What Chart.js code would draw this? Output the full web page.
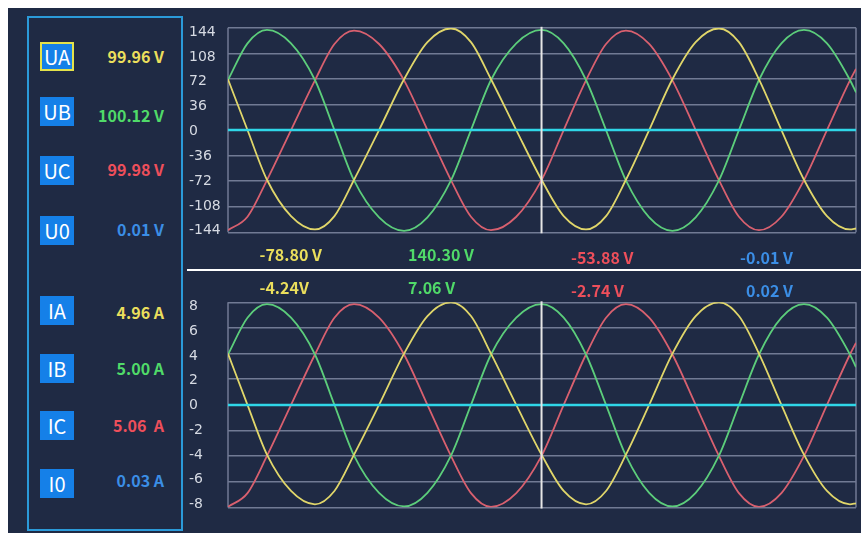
<!DOCTYPE html>
<html>
<head>
<meta charset="utf-8">
<script src="https://cdn.jsdelivr.net/npm/chart.js@4.4.1/dist/chart.umd.min.js"></script>
<style>
html,body{margin:0;padding:0;background:#ffffff;width:861px;height:533px;overflow:hidden}
#bg{position:absolute;left:8px;top:8px;width:853px;height:525px;background:#1f2a44}
#box{position:absolute;left:27px;top:16px;width:156px;height:515px;border:2px solid #2b9ad9;box-sizing:border-box}
.tag{position:absolute;left:40px;width:34px;height:29px;background:#1580e8;color:#fff;font-family:"Noto Sans CJK SC","Noto Sans",sans-serif;font-size:20px;line-height:29px;text-align:center;box-sizing:border-box}
.tag.sel{border:2px solid #e4e24a;line-height:25px}
.val{position:absolute;left:84px;width:80px;text-align:right;font-family:"Noto Sans CJK SC","Noto Sans",sans-serif;font-weight:bold;font-size:16px;line-height:20px;white-space:pre}
.rd{position:absolute;font-family:"Noto Sans CJK SC","Noto Sans",sans-serif;font-weight:bold;font-size:16px;line-height:20px;white-space:pre}
#sep{position:absolute;left:187px;top:269px;width:674px;height:2px;background:#ffffff}
canvas{position:absolute;left:189px}
</style>
</head>
<body>
<div id="bg"></div>
<div id="box"></div>
<div id="sep"></div>
<canvas id="cv" width="672" height="228" style="top:16px"></canvas>
<canvas id="ci" width="672" height="228" style="top:290px"></canvas>
<script>
// ---- data (times in ms) ----
const times = [0, 1.45, 2.90, 4.69, 6.47, 7.92, 9.38, 11.24, 13.10, 14.84, 16.59, 18.08, 19.57, 21.45, 23.33,
  24.98, 26.64, 28.13, 29.61, 31.34, 33.07, 34.80, 36.53, 38.02, 39.51, 41.18, 42.86, 44.57, 46.28, 46.73];

const uaWave = [71.5, 0, -70, -121.2, -140, -121.2, -70, 0, 71.5, 123.8, 143, 123.8, 71.5, 0, -70,
  -121.2, -140, -121.2, -70, 0, 71.5, 123.8, 143, 123.8, 71.5, 0, -70, -121.2, -140, -138.6];
const ubWave = [70.5, 122.1, 141, 122.1, 70.5, 0, -71, -123, -142, -123, -71, 0, 70.5, 122.1, 141,
  122.1, 70.5, 0, -71, -123, -142, -123, -71, 0, 70.5, 122.1, 141, 122.1, 70.5, 53];
const ucWave = [-141, -122.1, -70.5, 0, 70, 121.2, 140, 121.2, 70, 0, -70.5, -122.1, -141, -122.1, -70.5,
  0, 70, 121.2, 140, 121.2, 70, 0, -70.5, -122.1, -141, -122.1, -70.5, 0, 70, 86.2];
const u0Wave = [0, 0];

const iaWave = [4.0, 0, -3.88, -6.71, -7.75, -6.71, -3.88, 0, 4.0, 6.93, 8.0, 6.93, 4.0, 0, -3.88,
  -6.71, -7.75, -6.71, -3.88, 0, 4.0, 6.93, 8.0, 6.93, 4.0, 0, -3.88, -6.71, -7.75, -7.67];
const ibWave = [3.93, 6.80, 7.85, 6.80, 3.93, 0, -3.96, -6.86, -7.92, -6.86, -3.96, 0, 3.93, 6.80, 7.85,
  6.80, 3.93, 0, -3.96, -6.86, -7.92, -6.86, -3.96, 0, 3.93, 6.80, 7.85, 6.80, 3.93, 2.94];
const icWave = [-7.95, -6.88, -3.98, 0, 3.93, 6.80, 7.85, 6.80, 3.93, 0, -3.98, -6.88, -7.95, -6.88, -3.98,
  0, 3.93, 6.80, 7.85, 6.80, 3.93, 0, -3.98, -6.88, -7.95, -6.88, -3.98, 0, 3.93, 4.84];
const i0Wave = [0, 0];

const zeroTimes = [0, 46.73];
const cursorTime = 23.33;

const voltTicks = [144, 108, 72, 36, 0, -36, -72, -108, -144];
const currTicks = [8, 6, 4, 2, 0, -2, -4, -6, -8];

const voltTags = ['UA', 'UB', 'UC', 'U0'];
const voltValues = ['99.96 V', '100.12 V', '99.98 V', '0.01 V'];
const currTags = ['IA', 'IB', 'IC', 'I0'];
const currValues = ['4.96 A', '5.00 A', '5.06  A', '0.03 A'];
const voltCursor = ['-78.80 V', '140.30 V', '-53.88 V', '-0.01 V'];
const currCursor = ['-4.24V', '7.06 V', '-2.74 V', '0.02 V'];

// ---- styles ----
const textColors = ['#ebdf5c', '#50da69', '#ee4f5b', '#3b8ee6'];
const waveColors = ['#e0d66a', '#5ccd7b', '#d8606f'];
const zeroColor = '#2fd6e8';
const gridColor = '#717a94';

// ---- left panel & readouts ----
function addDiv(cls, text, css) {
  const d = document.createElement('div');
  d.className = cls; d.textContent = text;
  Object.assign(d.style, css);
  document.body.appendChild(d);
}
const vTagC = [56.5, 111.7, 170.7, 230];
const vValC = [56.7, 115.7, 170, 230];
const iTagC = [310, 368.3, 425, 483];
const iValC = [313.3, 369.3, 426, 481];
voltTags.forEach((t, i) => addDiv('tag' + (i === 0 ? ' sel' : ''), t, {top: (vTagC[i] - 14.5) + 'px'}));
currTags.forEach((t, i) => addDiv('tag', t, {top: (iTagC[i] - 14.5) + 'px'}));
voltValues.forEach((t, i) => addDiv('val', t, {top: (vValC[i] - 11) + 'px', color: textColors[i]}));
currValues.forEach((t, i) => addDiv('val', t, {top: (iValC[i] - 11) + 'px', color: textColors[i]}));

const rdLeft = [259.5, 408, 571];
const rowV = [255, 255, 258, 258];
const rowI = [288, 288, 291, 291];
voltCursor.forEach((t, i) => {
  const css = {top: (rowV[i] - 11) + 'px', color: textColors[i]};
  if (i < 3) css.left = rdLeft[i] + 'px'; else { css.right = (861 - 793) + 'px'; css.textAlign = 'right'; }
  addDiv('rd', t, css);
});
currCursor.forEach((t, i) => {
  const css = {top: (rowI[i] - 11) + 'px', color: textColors[i]};
  if (i < 3) css.left = rdLeft[i] + 'px'; else { css.right = (861 - 793) + 'px'; css.textAlign = 'right'; }
  addDiv('rd', t, css);
});

// ---- charts ----
const framePlugin = {
  id: 'frame',
  beforeDatasetsDraw(chart) {
    const {ctx, chartArea: a} = chart;
    ctx.save();
    ctx.strokeStyle = gridColor; ctx.lineWidth = 1.5;
    ctx.beginPath();
    ctx.moveTo(a.left, a.top); ctx.lineTo(a.left, a.bottom);
    ctx.moveTo(a.right, a.top); ctx.lineTo(a.right, a.bottom);
    ctx.stroke();
    ctx.restore();
  },
  afterDatasetsDraw(chart) {
    const {ctx, chartArea: a} = chart;
    const x = chart.scales.x.getPixelForValue(cursorTime);
    ctx.save();
    ctx.strokeStyle = '#e6e6e6'; ctx.lineWidth = 2;
    ctx.beginPath(); ctx.moveTo(x, a.top - 1); ctx.lineTo(x, a.bottom + 1); ctx.stroke();
    ctx.restore();
  }
};

function makeChart(id, waves, zero, ticks, range, labelRange, pad) {
  const ds = [{
    data: zeroTimes.map((t, i) => ({x: t, y: zero[i]})),
    borderColor: zeroColor, borderWidth: 2.5
  }];
  waves.forEach((w, k) => ds.push({
    data: times.map((t, i) => ({x: t, y: w[i]})),
    borderColor: waveColors[k], borderWidth: 1.8,
    cubicInterpolationMode: 'monotone'
  }));
  ds.forEach(d => { d.pointRadius = 0; d.fill = false; });
  return new Chart(document.getElementById(id), {
    type: 'line',
    data: {datasets: ds},
    plugins: [framePlugin],
    options: {
      responsive: false, animation: false, events: [],
      layout: {autoPadding: false, padding: pad},
      plugins: {legend: {display: false}, tooltip: {enabled: false}},
      scales: {
        x: {type: 'linear', min: times[0], max: times[times.length - 1], display: false},
        y: {
          position: 'left', min: range[0], max: range[1],
          afterBuildTicks: s => { s.ticks = ticks.map(v => ({value: v})); },
          ticks: {display: false},
          grid: {color: gridColor, lineWidth: 1.5, drawTicks: false},
          border: {display: false}
        },
        yl: {
          position: 'left', min: labelRange[0], max: labelRange[1],
          afterBuildTicks: s => { s.ticks = ticks.map(v => ({value: v})); },
          afterFit: s => { s.width = 39; },
          grid: {display: false}, border: {display: false},
          ticks: {color: '#d6dae3', font: {family: 'DejaVu Sans', size: 14}, crossAlign: 'far', padding: 0, autoSkip: false}
        }
      }
    }
  });
}

makeChart('cv', [uaWave, ubWave, ucWave], u0Wave, voltTicks, [-144, 144], [-146.3, 150.3],
  {top: 11.8, bottom: 11.7, left: 0, right: 5});
makeChart('ci', [iaWave, ibWave, icWave], i0Wave, currTicks, [-8, 8], [-8.26, 8.36],
  {top: 12.3, bottom: 10.5, left: 0, right: 5});
</script>
</body>
</html>
